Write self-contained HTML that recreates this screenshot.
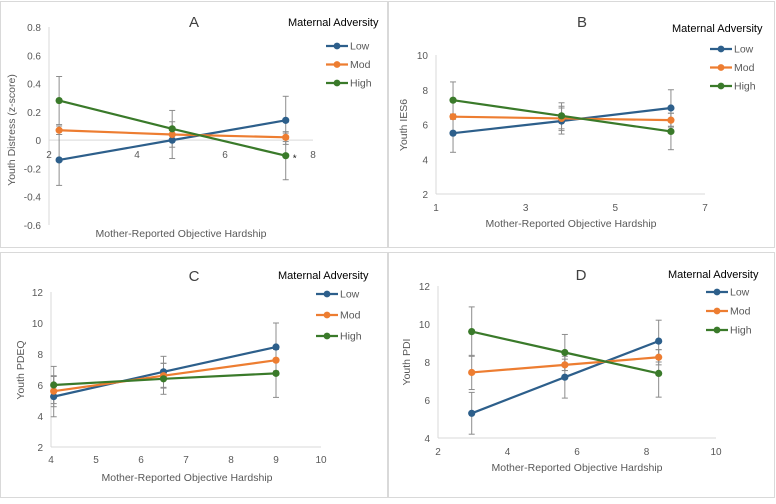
<!DOCTYPE html>
<html><head><meta charset="utf-8">
<style>
html,body{margin:0;padding:0;background:#fff;}
body{width:776px;height:499px;overflow:hidden;font-family:"Liberation Sans",Arial,sans-serif;}
svg text{font-family:"Liberation Sans",Arial,sans-serif;}
</style></head>
<body>
<svg id="chart" width="776" height="499" viewBox="0 0 776 499" xmlns="http://www.w3.org/2000/svg"></svg>
<script>
// Panel A
const aX = [2.23, 4.8, 7.38];
const aLow = [-0.14, 0.0, 0.14];
const aMod = [0.07, 0.04, 0.02];
const aHigh = [0.28, 0.08, -0.11];
const aLowErr = [0.18, 0.13, 0.17];
const aModErr = [0.03, 0.03, 0.03];
const aHighErr = [0.17, 0.13, 0.17];
const aYTicks = [0.8, 0.6, 0.4, 0.2, 0, -0.2, -0.4, -0.6];
const aXTicks = [2, 4, 6, 8];
// Panel B
const bX = [1.38, 3.8, 6.24];
const bLow = [5.5, 6.2, 6.95];
const bMod = [6.45, 6.35, 6.25];
const bHigh = [7.4, 6.5, 5.6];
const bLowErr = [1.1, 0.75, 1.05];
const bModErr = [0.15, 0.7, 0.4];
const bHighErr = [1.05, 0.75, 1.05];
const bYTicks = [2, 4, 6, 8, 10];
const bXTicks = [1, 3, 5, 7];
// Panel C
const cX = [4.06, 6.5, 9.0];
const cLow = [5.25, 6.85, 8.45];
const cMod = [5.6, 6.6, 7.6];
const cHigh = [6.0, 6.4, 6.75];
const cLowErr = [1.3, 1.0, 1.55];
const cModErr = [1.0, 0.8, 0.7];
const cHighErr = [1.2, 1.0, 1.55];
const cYTicks = [2, 4, 6, 8, 10, 12];
const cXTicks = [4, 5, 6, 7, 8, 9, 10];
// Panel D
const dX = [2.97, 5.65, 8.35];
const dLow = [5.3, 7.2, 9.1];
const dMod = [7.45, 7.85, 8.25];
const dHigh = [9.6, 8.5, 7.4];
const dLowErr = [1.1, 1.1, 1.1];
const dModErr = [0.9, 0.3, 0.4];
const dHighErr = [1.3, 0.95, 1.25];
const dYTicks = [4, 6, 8, 10, 12];
const dXTicks = [2, 4, 6, 8, 10];
const seriesNames = ['Low', 'Mod', 'High'];
const colors = ['#2d5f8b', '#ed7d31', '#3a7a2a'];

const NS = 'http://www.w3.org/2000/svg';
const svg = document.getElementById('chart');
function mk(tag, attrs, parent, text) {
  const e = document.createElementNS(NS, tag);
  for (const k in attrs) e.setAttribute(k, attrs[k]);
  if (text !== undefined) e.textContent = text;
  (parent || svg).appendChild(e);
  return e;
}

function panel(p) {
  const g = mk('g', {});
  
  
  const bd = mk('rect', {x: p.box[0], y: p.box[1], width: p.box[2], height: p.box[3], fill: '#fff', stroke: '#d9d9d9', 'stroke-width': 1}, g);
  
  
  const sx = v => p.x0 + (v - p.xmin) / (p.xmax - p.xmin) * (p.x1 - p.x0);
  const sy = v => p.y0 + (p.ymax - v) / (p.ymax - p.ymin) * (p.y1 - p.y0);
  const ya = mk('line', {x1: p.x0, x2: p.x0, y1: p.y0, y2: p.y1, stroke: '#d9d9d9', 'stroke-width': 1}, g);
  
  
  const xaY = sy(p.xAxisAt);
  const xa = mk('line', {x1: p.x0, x2: p.x1, y1: xaY, y2: xaY, stroke: '#d9d9d9', 'stroke-width': 1}, g);
  
  
  p.yTicks.forEach(t => {
    const tx = mk('text', {x: p.x0 - 8, y: sy(t) + 4, 'text-anchor': 'end', 'font-size': 10, fill: '#595959'}, g, String(t));
    
    
  });
  p.xTicks.forEach(t => {
    const tx = mk('text', {x: sx(t), y: xaY + p.xLabOff, 'text-anchor': 'middle', 'font-size': 10, fill: '#595959'}, g, String(t));
    
    
  });
  const yt = mk('text', {x: 0, y: 0, 'text-anchor': 'middle', 'font-size': 10.5, fill: '#595959', transform: `translate(${p.yTitle[0]},${p.yTitle[1]}) rotate(-90)`}, g, p.yLabel);
  
  
  const xt = mk('text', {x: p.xTitle[0], y: p.xTitle[1], 'text-anchor': 'middle', 'font-size': 10.5, fill: '#595959'}, g, 'Mother-Reported Objective Hardship');
  
  
  const tt = mk('text', {x: p.title[0], y: p.title[1], 'text-anchor': 'middle', 'font-size': 15, fill: '#404040'}, g, p.id);
  
  
  p.series.forEach((s, si) => {
    s.forEach((v, i) => {
      const e = p.errs[si][i];
      const x = sx(p.xs[i]);
      const eb = mk('g', {stroke: '#8c8c8c', 'stroke-width': 1}, g);
      
      
      mk('line', {x1: x, x2: x, y1: sy(v + e), y2: sy(v - e)}, eb);
      mk('line', {x1: x - 3, x2: x + 3, y1: sy(v + e), y2: sy(v + e)}, eb);
      mk('line', {x1: x - 3, x2: x + 3, y1: sy(v - e), y2: sy(v - e)}, eb);
    });
  });
  p.series.forEach((s, si) => {
    const pts = s.map((v, i) => sx(p.xs[i]) + ',' + sy(v)).join(' ');
    const pl = mk('polyline', {points: pts, fill: 'none', stroke: colors[si], 'stroke-width': 2.2}, g);
    
    
    s.forEach((v, i) => {
      const c = mk('circle', {cx: sx(p.xs[i]), cy: sy(v), r: 3.6, fill: colors[si]}, g);
      
      
    });
  });
  if (p.star) {
    const si = p.star[0];
    const st = mk('text', {x: sx(p.xs[2]) + 7, y: sy(p.series[si][2]) + p.star[1], 'font-size': 10, fill: '#222'}, g, '*');
    
    
  }
  const lt = mk('text', {x: p.legend[0] - 38, y: p.legend[1], 'font-size': 11, fill: '#000'}, g, 'Maternal Adversity');
  
  
  seriesNames.forEach((n, si) => {
    const ly = p.legend[1] + p.legend[2] + si * p.legend[3];
    const le = mk('g', {}, g);
    
    
    mk('line', {x1: p.legend[0], x2: p.legend[0] + 22, y1: ly, y2: ly, stroke: colors[si], 'stroke-width': 2.2}, le);
    mk('circle', {cx: p.legend[0] + 11, cy: ly, r: 3.4, fill: colors[si]}, le);
    mk('text', {x: p.legend[0] + 24, y: ly + 3.5, 'font-size': 10.5, fill: '#595959'}, le, n);
  });
}

panel({id: 'A', box: [0.5, 1.5, 387, 246], x0: 49, x1: 313, xmin: 2, xmax: 8, y0: 27, y1: 225, ymin: -0.6, ymax: 0.8,
  xs: aX, series: [aLow, aMod, aHigh], errs: [aLowErr, aModErr, aHighErr], yTicks: aYTicks, xTicks: aXTicks,
  xAxisAt: 0, xLabOff: 18, yLabel: 'Youth Distress (z-score)', yTitle: [15, 130], xTitle: [181, 237], title: [194, 27],
  legend: [326, 26, 20, 18.5], star: [2, 6]});
panel({id: 'B', box: [388.5, 1.5, 386, 246], x0: 436, x1: 705, xmin: 1, xmax: 7, y0: 55, y1: 194, ymin: 2, ymax: 10,
  xs: bX, series: [bLow, bMod, bHigh], errs: [bLowErr, bModErr, bHighErr], yTicks: bYTicks, xTicks: bXTicks,
  xAxisAt: 2, xLabOff: 17, yLabel: 'Youth IES6', yTitle: [407, 125], xTitle: [571, 227], title: [582, 27],
  legend: [710, 32, 17, 18.5]});
panel({id: 'C', box: [0.5, 252.5, 387, 245], x0: 51, x1: 321, xmin: 4, xmax: 10, y0: 292, y1: 447, ymin: 2, ymax: 12,
  xs: cX, series: [cLow, cMod, cHigh], errs: [cLowErr, cModErr, cHighErr], yTicks: cYTicks, xTicks: cXTicks,
  xAxisAt: 2, xLabOff: 16, yLabel: 'Youth PDEQ', yTitle: [24, 370], xTitle: [187, 481], title: [194, 281],
  legend: [316, 279, 15, 21]});
panel({id: 'D', box: [388.5, 252.5, 386, 245], x0: 438, x1: 716, xmin: 2, xmax: 10, y0: 286, y1: 438, ymin: 4, ymax: 12,
  xs: dX, series: [dLow, dMod, dHigh], errs: [dLowErr, dModErr, dHighErr], yTicks: dYTicks, xTicks: dXTicks,
  xAxisAt: 4, xLabOff: 17, yLabel: 'Youth PDI', yTitle: [410, 362], xTitle: [577, 471], title: [581, 280],
  legend: [706, 278, 14, 19]});
</script>
</body></html>
